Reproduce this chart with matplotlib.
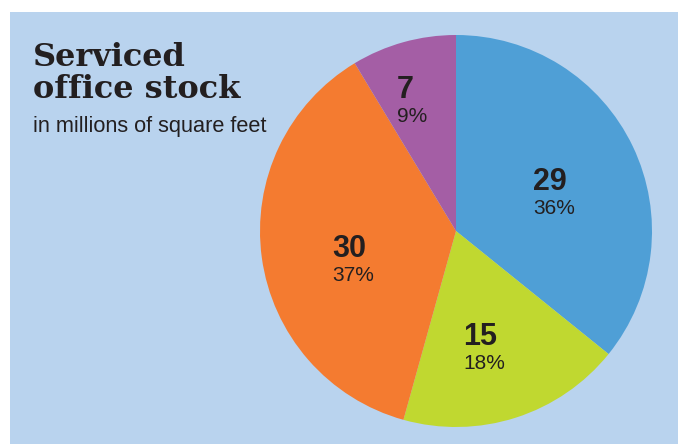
import matplotlib
matplotlib.use("Agg")
import matplotlib.pyplot as plt
from matplotlib.patches import Rectangle

# data: millions of square feet
values = [29, 15, 30, 7]
percents = ["36%", "18%", "37%", "9%"]
colors = ["#4f9fd6", "#c0d830", "#f47b30", "#a45ea5"]

# label anchor (left edge, baseline of the number) in pie data units
label_xy = [(0.393, 0.209), (0.036, -0.582), (-0.633, -0.133), (-0.301, 0.679)]
pct_gap = 0.122

subtitle = "in millions of square feet"

bg = "#b9d3ee"
ink = "#231f20"

fig = plt.figure(figsize=(6.78, 4.44), dpi=100)
fig.patch.set_facecolor("white")

# blue panel with white strip at top and left
fig.patches.append(Rectangle((10 / 678, 0), 1, 432 / 444, transform=fig.transFigure,
                             facecolor=bg, edgecolor="none", zorder=-5))

ax = fig.add_axes([260 / 678, 17 / 444, 392 / 678, 392 / 444])
ax.set_zorder(2)
ax.pie(values, colors=colors, startangle=90, counterclock=False,
       wedgeprops=dict(linewidth=0))
ax.set_xlim(-1, 1)
ax.set_ylim(-1, 1)
ax.set_aspect("equal")
ax.axis("off")

for v, p, (x, y) in zip(values, percents, label_xy):
    ax.text(x, y, str(v), ha="left", va="baseline", fontsize=22,
            fontweight="bold", family="Liberation Sans", color=ink)
    ax.text(x, y - pct_gap, p, ha="left", va="baseline", fontsize=15,
            family="Liberation Sans", color=ink)

fig.text(33 / 678, 1 - 66 / 444, "Serviced", fontsize=23, fontweight="bold",
         family="DejaVu Serif", color=ink, ha="left", va="baseline")
fig.text(33 / 678, 1 - 98 / 444, "office stock", fontsize=23, fontweight="bold",
         family="DejaVu Serif", color=ink, ha="left", va="baseline")
fig.text(33 / 678, 1 - 132 / 444, subtitle, fontsize=15.7,
         family="Liberation Sans", color=ink, ha="left", va="baseline")

fig.savefig("out.png", dpi=100, facecolor=fig.get_facecolor())
